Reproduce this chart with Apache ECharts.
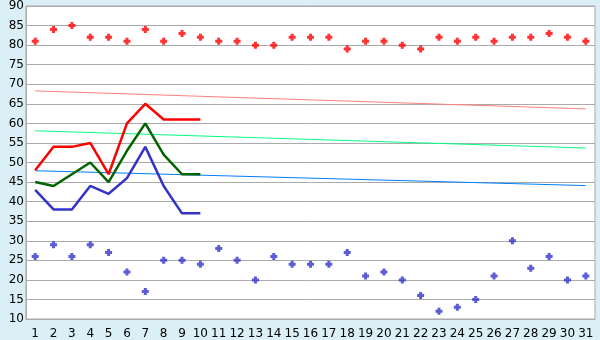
<!DOCTYPE html>
<html><head><meta charset="utf-8">
<script src="https://cdn.jsdelivr.net/npm/echarts@6/dist/echarts.min.js"></script>
<style>html,body{margin:0;padding:0;background:#daf0f6;}#c{width:600px;height:340px;}</style>
</head><body><div id="c"></div>
<script>
var categories = ['1','2','3','4','5','6','7','8','9','10','11','12','13','14','15','16','17','18','19','20','21','22','23','24','25','26','27','28','29','30','31'];
var yTicks = {min: 10, max: 90, interval: 5};
var highPoints = [81,84,85,82,82,81,84,81,83,82,81,81,80,80,82,82,82,79,81,81,80,79,82,81,82,81,82,82,83,82,81];
var lowPoints = [26,29,26,29,27,22,17,25,25,24,28,25,20,26,24,24,24,27,21,22,20,16,12,13,15,21,30,23,26,20,21];
var redLine = [48,54,54,55,47,60,65,61,61,61];
var greenLine = [45,44,47,50,45,53,60,52,47,47];
var blueLine = [43,38,38,44,42,46,54,44,37,37];
var pinkTrend = [['1',68.3],['31',63.7]];
var mintTrend = [['1',58.1],['31',53.7]];
var azureTrend = [['1',47.9],['31',44.1]];

var chart = echarts.init(document.getElementById('c'), null, {renderer:'canvas'});
var font = 'DejaVu Sans';
var plus = 'path://M2,0H5V2H7V5H5V7H2V5H0V2H2Z';
function trend(d, color){ return {type:'line', data:d, symbol:'none', lineStyle:{color:color, width:1}, itemStyle:{color:color}, animation:false, z:2}; }
function line(d, color){ return {type:'line', data:d, symbol:'none', lineStyle:{color:color, width:2.5}, itemStyle:{color:color}, animation:false, z:3}; }
function pts(d, color){ return {type:'scatter', data:d, symbol:plus, symbolSize:7, itemStyle:{color:color}, animation:false, z:4}; }
chart.setOption({
  backgroundColor:'#daf0f6',
  animation:false,
  grid:{left:26, right:5, top:5, bottom:20, show:true, backgroundColor:'#ffffff', borderColor:'#aaaaaa', borderWidth:1},
  xAxis:{type:'category', data:categories, boundaryGap:true,
    axisLine:{lineStyle:{color:'#aaaaaa', width:1}},
    axisTick:{alignWithLabel:true, length:5, lineStyle:{color:'#aaaaaa'}},
    axisLabel:{color:'#000', fontFamily:font, fontSize:12, margin:9, interval:0},
    splitLine:{show:false}},
  yAxis:{type:'value', min:yTicks.min, max:yTicks.max, interval:yTicks.interval,
    axisLine:{show:true, lineStyle:{color:'#aaaaaa'}},
    axisTick:{show:false},
    axisLabel:{color:'#000', fontFamily:font, fontSize:12, margin:2},
    splitLine:{lineStyle:{color:'#aaaaaa', width:1}}},
  series:[
    trend(pinkTrend,'#ff8080'),
    trend(mintTrend,'#00ff80'),
    trend(azureTrend,'#0080ff'),
    line(redLine,'#ff0000'),
    line(greenLine,'#006400'),
    line(blueLine,'#3333cc'),
    pts(highPoints,'#ff0000'),
    pts(lowPoints,'#3333cc')
  ]
});
</script></body></html>
